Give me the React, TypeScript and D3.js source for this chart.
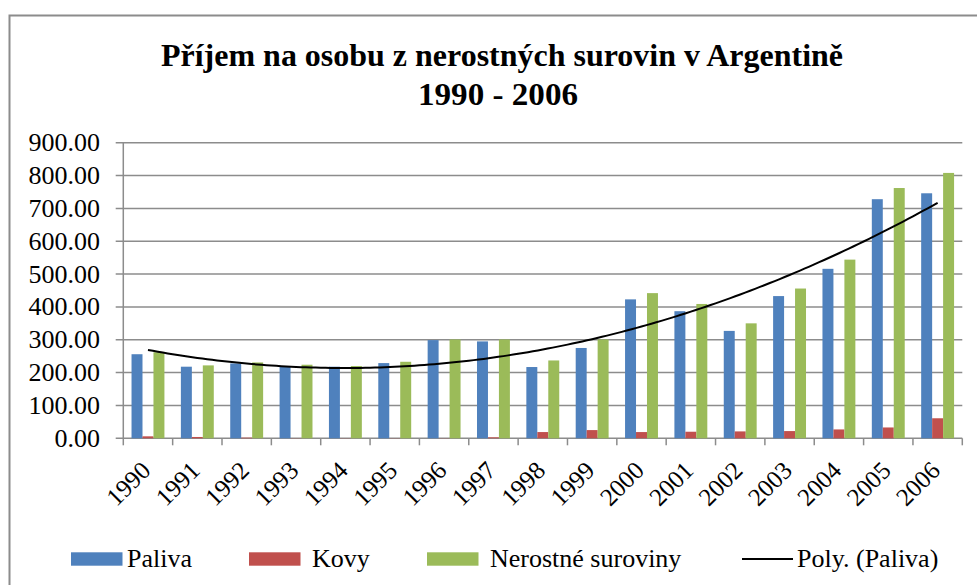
import React from "react";
import * as d3 from "d3";

const years = ["1990","1991","1992","1993","1994","1995","1996","1997","1998","1999","2000","2001","2002","2003","2004","2005","2006"];
const paliva = [256,218,228,220,218,229,299,295,217,275,423,387,327,433,516,728,746];
const kovy = [6,4,2,0.5,0.5,0.5,0.5,3,19,25,19,20,21,22,27,33,61];
const nerostne = [262,222,231,224,220,233,301,301,237,301,442,409,350,456,544,762,808];
const yTicks = [0,100,200,300,400,500,600,700,800,900];
const seriesNames = ["Paliva","Kovy","Nerostné suroviny"];
const seriesColors = ["#4F81BD","#C0504D","#9BBB59"];
const titleLines = ["Příjem na osobu z nerostných surovin v Argentině","1990 - 2006"];
const trendName = "Poly. (Paliva)";

function quadFit(ys: number[]) {
  const s = [0,0,0,0,0], t = [0,0,0];
  ys.forEach((yv, i) => {
    const xv = i + 1;
    for (let k = 0; k < 5; k++) s[k] += Math.pow(xv, k);
    for (let k = 0; k < 3; k++) t[k] += yv * Math.pow(xv, k);
  });
  const M = [[s[0],s[1],s[2],t[0]],[s[1],s[2],s[3],t[1]],[s[2],s[3],s[4],t[2]]];
  for (let i = 0; i < 3; i++) {
    for (let j = i + 1; j < 3; j++) {
      const f = M[j][i] / M[i][i];
      for (let k = i; k < 4; k++) M[j][k] -= f * M[i][k];
    }
  }
  const r = [0,0,0];
  for (let i = 2; i >= 0; i--) {
    let v = M[i][3];
    for (let k = i + 1; k < 3; k++) v -= M[i][k] * r[k];
    r[i] = v / M[i][i];
  }
  return (xv: number) => r[0] + r[1] * xv + r[2] * xv * xv;
}

export default function App() {
  const W = 977, H = 585;
  const left = 123.3, right = 962.3, top = 142.7, bottom = 438.3;
  const x = d3.scaleBand<string>().domain(years).range([left, right]).padding(0);
  const y = d3.scaleLinear().domain([0, 900]).range([bottom, top]);
  const bw = x.bandwidth();
  const inner = d3.scaleBand<number>().domain([0,1,2]).range([0, bw]).paddingInner(0).paddingOuter(0.75);
  const barW = inner.bandwidth();
  const series = [paliva, kovy, nerostne];
  const fit = quadFit(paliva);
  const trendPts: [number, number][] = [];
  for (let t = 1; t <= years.length + 0.001; t += 0.1) {
    trendPts.push([left + (t - 0.5) * bw, y(fit(t))]);
  }
  const line = d3.line().curve(d3.curveLinear);
  const font = "'Liberation Serif', Tinos, 'Times New Roman', Times, 'DejaVu Serif', serif";
  const gridColor = "#8c8c8c";

  const legendItems = [
    { type: "rect", color: seriesColors[0], label: seriesNames[0], sx: 71, tx: 127 },
    { type: "rect", color: seriesColors[1], label: seriesNames[1], sx: 249, tx: 312 },
    { type: "rect", color: seriesColors[2], label: seriesNames[2], sx: 427, tx: 490 },
    { type: "line", color: "#000", label: trendName, sx: 742, tx: 797 },
  ];

  return (
    <svg width={W} height={H} style={{ position: "absolute", left: 0, top: 0, background: "#fff", fontFamily: font }}>
      <rect x={9.5} y={15.5} width={1000} height={1000} fill="#fff" stroke="#8c8c8c" strokeWidth={2} />
      <text x={502} y={66} textAnchor="middle" fontSize={32} fontWeight="bold" textLength={682} lengthAdjust="spacingAndGlyphs" style={{ fontFamily: font }}>{titleLines[0]}</text>
      <text x={498} y={105} textAnchor="middle" fontSize={32} fontWeight="bold" textLength={160} lengthAdjust="spacingAndGlyphs" style={{ fontFamily: font }}>{titleLines[1]}</text>

      {yTicks.map((v) => (
        <g key={v}>
          <line x1={115.7} x2={right} y1={y(v)} y2={y(v)} stroke={gridColor} strokeWidth={1.5} />
          <text x={100} y={y(v) + 8.5} textAnchor="end" fontSize={26} style={{ fontFamily: font }}>{v.toFixed(2)}</text>
        </g>
      ))}
      <line x1={left} x2={left} y1={top} y2={bottom} stroke={gridColor} strokeWidth={1.5} />
      {years.map((yr, i) => (
        <line key={"t" + yr} x1={left + i * bw} x2={left + i * bw} y1={bottom} y2={bottom + 7} stroke={gridColor} strokeWidth={1.5} />
      ))}
      <line x1={right} x2={right} y1={bottom} y2={bottom + 7} stroke={gridColor} strokeWidth={1.5} />

      {series.map((vals, si) =>
        vals.map((v, i) => (
          <rect key={si + "-" + i} x={(x(years[i]) as number) + (inner(si) as number)} y={y(v)} width={barW} height={bottom - y(v)} fill={seriesColors[si]} />
        ))
      )}

      <path d={line(trendPts) as string} fill="none" stroke="#000" strokeWidth={2} />

      {years.map((yr) => {
        const cx = (x(yr) as number) + bw / 2 + 4;
        const cy = 472;
        return (
          <text key={"l" + yr} x={cx} y={cy} textAnchor="end" fontSize={25} transform={`rotate(-45 ${cx} ${cy})`} style={{ fontFamily: font }}>{yr}</text>
        );
      })}

      {legendItems.map((it) => (
        <g key={it.label}>
          {it.type === "rect" ? (
            <rect x={it.sx} y={552.3} width={51.5} height={13.4} fill={it.color} />
          ) : (
            <line x1={it.sx} x2={it.sx + 51} y1={559} y2={559} stroke="#000" strokeWidth={2} />
          )}
          <text x={it.tx} y={566.7} fontSize={26} style={{ fontFamily: font }}>{it.label}</text>
        </g>
      ))}
    </svg>
  );
}
